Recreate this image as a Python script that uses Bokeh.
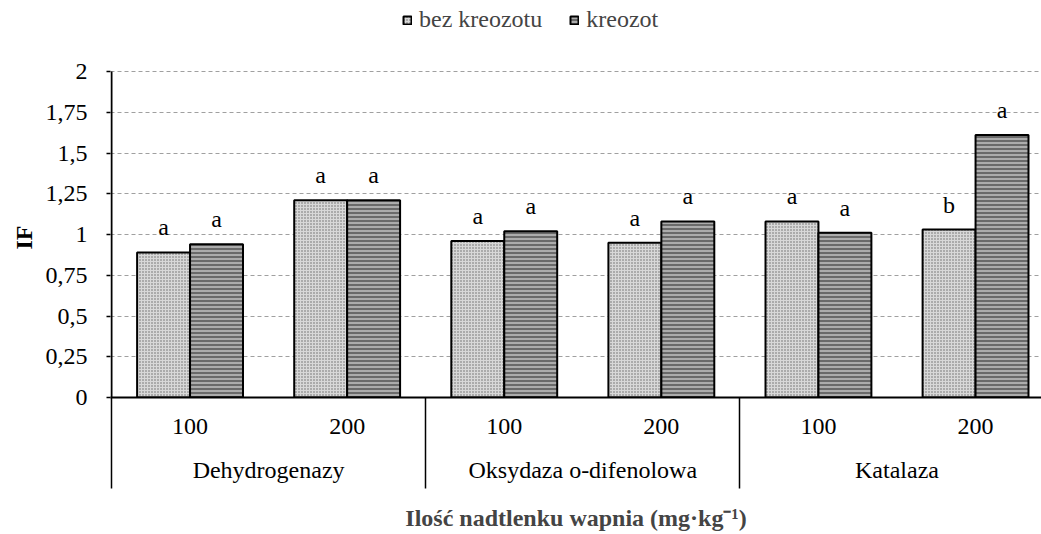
from bokeh.plotting import figure
from bokeh.models import (Range1d, FixedTicker, LinearAxis, Legend, LegendItem, Grid, Title)
from bokeh.core.properties import value
from bokeh.embed import file_html
from bokeh.resources import INLINE

# ---- data ----
groups = ["Dehydrogenazy", "Oksydaza o-difenolowa", "Katalaza"]
doses = ["100", "200", "100", "200", "100", "200"]
series_names = ["bez kreozotu", "kreozot"]
bez_kreozotu = [0.89, 1.21, 0.96, 0.95, 1.08, 1.03]
kreozot = [0.94, 1.21, 1.02, 1.08, 1.01, 1.61]
letters_bez = ["a", "a", "a", "a", "a", "b"]
letters_kreozot = ["a", "a", "a", "a", "a", "a"]
y_ticks = [0, 0.25, 0.5, 0.75, 1, 1.25, 1.5, 1.75, 2]
y_tick_labels = ["0", "0,25", "0,5", "0,75", "1", "1,25", "1,5", "1,75", "2"]
y_title = "IF"
x_title = "Ilość nadtlenku wapnia (mg·kg⁻¹)"

# ---- layout / style ----
FONT = "Liberation Serif"
FS = "24px"
LEFT = 110
TOP_SPACE = 71          # room above the value 2 for the legend (inside frame)
PLOT_H = 326            # pixel height of values 0..2
FRAME_W, FRAME_H = 931, PLOT_H + TOP_SPACE
UNIT = 157.1
BAR_W = 0.337
SEP_LEN = 88
LEGEND_BOTTOM = 33
YTITLE_OFFSET = 148     # distance of the y title start from the frame bottom

y_max_view = y_ticks[-1] * FRAME_H / PLOT_H

slots = list(range(len(doses)))
x_bez = [s + 0.5 - BAR_W / 2 for s in slots]
x_kre = [s + 0.5 + BAR_W / 2 for s in slots]
per_group = len(doses) // len(groups)

p = figure(frame_width=FRAME_W, frame_height=FRAME_H, output_backend="svg", toolbar_location=None,
           x_range=Range1d(-1 / UNIT, (FRAME_W - 1) / UNIT), y_range=Range1d(0, y_max_view),
           x_axis_type=None, y_axis_type=None,
           min_border_left=LEFT, min_border_top=0,
           min_border_right=0, min_border_bottom=0)
p.outline_line_color = None
p.background_fill_color = "white"
p.border_fill_color = "white"

grid = Grid(dimension=1, ticker=FixedTicker(ticks=y_ticks[1:]),
            grid_line_color="#a0a0a0", grid_line_dash="4 3", grid_line_width=1)
p.add_layout(grid)

# y axis line (only over the value span 0..2)
p.segment(x0=[0], y0=[y_ticks[0]], x1=[0], y1=[y_ticks[-1]], line_color="black", line_width=2)

r_bez = p.vbar(x=x_bez, top=bez_kreozotu, bottom=0, width=BAR_W,
               fill_color="#d8d8d8", hatch_pattern="dot", hatch_color="#666666",
               hatch_scale=3, hatch_weight=1,
               line_color="black", line_width=2)
r_kre = p.vbar(x=x_kre, top=kreozot, bottom=0, width=BAR_W,
               fill_color="#6a6a6a", hatch_pattern="horizontal_line", hatch_color="#eeeeee",
               hatch_scale=4, hatch_weight=1,
               line_color="black", line_width=2)

for xs, ys, labs in [(x_bez, bez_kreozotu, letters_bez), (x_kre, kreozot, letters_kreozot)]:
    p.text(x=xs, y=ys, text=labs, text_font=value(FONT), text_font_size=FS,
           text_align="center", text_baseline="alphabetic", y_offset=-25, text_color="black")

# y axis
yax = LinearAxis(ticker=FixedTicker(ticks=y_ticks),
                 major_label_overrides={t: l for t, l in zip(y_ticks, y_tick_labels)},
                 major_label_text_font=FONT, major_label_text_font_size=FS,
                 major_label_text_color="black", major_label_standoff=19,
                 major_tick_out=4, major_tick_in=0, minor_tick_line_color=None,
                 axis_line_color=None, major_tick_line_color="black",
                 major_tick_line_width=1.5)
p.add_layout(yax, "left")
p.add_layout(Title(text=y_title, text_font=FONT, text_font_size=FS, text_font_style="bold",
                   text_color="black", align="left", offset=YTITLE_OFFSET, standoff=11),
             "left")

# x axis 1: doses
dose_ticks = [s + 0.5 for s in slots]
xax1 = LinearAxis(ticker=FixedTicker(ticks=dose_ticks),
                  major_label_overrides={t: d for t, d in zip(dose_ticks, doses)},
                  major_label_text_font=FONT, major_label_text_font_size=FS,
                  major_label_text_color="black", major_label_standoff=21,
                  major_tick_out=0, major_tick_in=0, major_tick_line_color=None,
                  minor_tick_line_color=None,
                  axis_line_width=2, axis_line_color="black")
p.add_layout(xax1, "below")

# x axis 2: groups
group_ticks = [g * per_group + per_group / 2 for g in range(len(groups))]
xax2 = LinearAxis(ticker=FixedTicker(ticks=group_ticks),
                  major_label_overrides={t: g for t, g in zip(group_ticks, groups)},
                  major_label_text_font=FONT, major_label_text_font_size=FS,
                  major_label_text_color="black", major_label_standoff=20,
                  major_tick_out=0, major_tick_in=0, major_tick_line_color=None,
                  minor_tick_line_color=None, axis_line_color=None)
p.add_layout(xax2, "below")

# x axis 3: group separators (ticks pointing up) + title
sep_ticks = [g * per_group for g in range(len(groups) + 1)]
xax3 = LinearAxis(ticker=FixedTicker(ticks=[], minor_ticks=sep_ticks),
                  major_tick_line_color=None, axis_line_color=None,
                  minor_tick_in=SEP_LEN, minor_tick_out=3, minor_tick_line_color="black",
                  minor_tick_line_width=1.5, major_label_standoff=0,
                  axis_label=x_title, axis_label_text_font=FONT, axis_label_text_font_size=FS,
                  axis_label_text_font_style="bold", axis_label_standoff=16)
p.add_layout(xax3, "below")

legend = Legend(items=[LegendItem(label=series_names[0], renderers=[r_bez]),
                       LegendItem(label=series_names[1], renderers=[r_kre])],
                orientation="horizontal", location=(402 - LEFT, FRAME_H - LEGEND_BOTTOM),
                label_text_font=FONT, label_text_font_size=FS,
                glyph_width=10, glyph_height=10, label_standoff=7, spacing=27,
                padding=0, margin=0, border_line_color=None, background_fill_alpha=0)
p.add_layout(legend, "center")

open("out.html", "w").write(file_html(p, INLINE))
